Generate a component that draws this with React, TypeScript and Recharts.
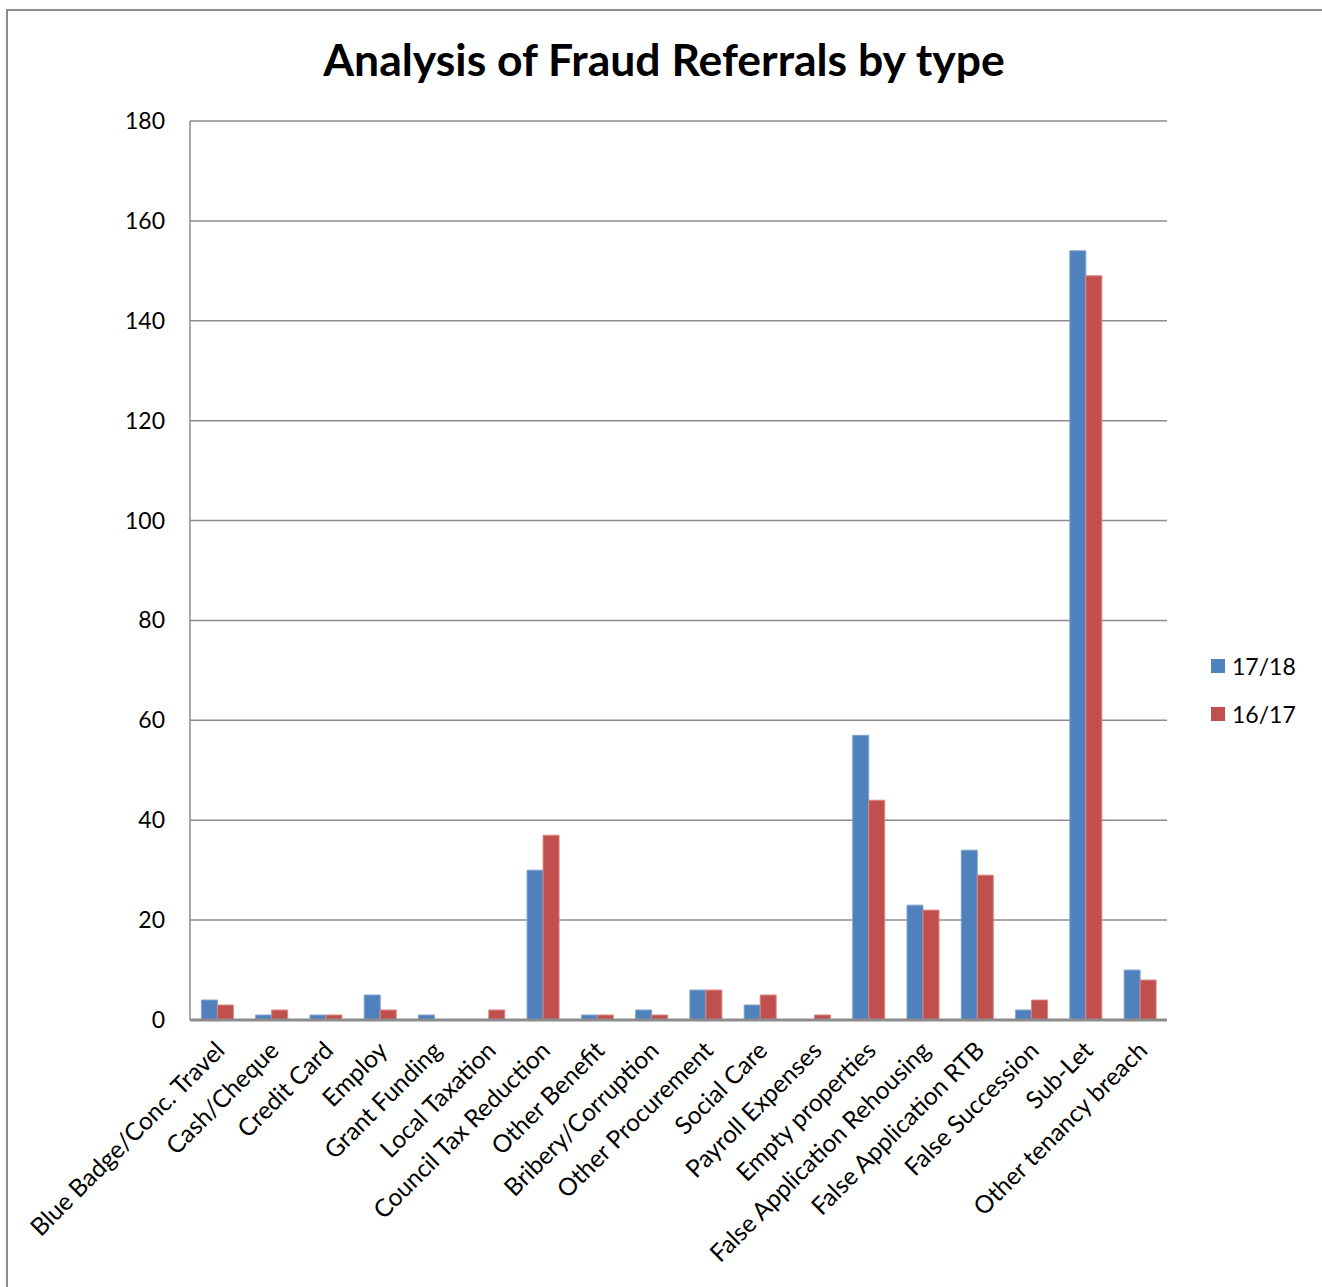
import { BarChart, Bar, XAxis, YAxis, CartesianGrid } from 'recharts';

const categories = [
  'Blue Badge/Conc. Travel',
  'Cash/Cheque',
  'Credit Card',
  'Employ',
  'Grant Funding',
  'Local Taxation',
  'Council Tax Reduction',
  'Other Benefit',
  'Bribery/Corruption',
  'Other Procurement',
  'Social Care',
  'Payroll Expenses',
  'Empty properties',
  'False Application Rehousing',
  'False Application RTB',
  'False Succession',
  'Sub-Let',
  'Other tenancy breach',
];

const values1718 = [4, 1, 1, 5, 1, 0, 30, 1, 2, 6, 3, 0, 57, 23, 34, 2, 154, 10];
const values1617 = [3, 2, 1, 2, 0, 2, 37, 1, 1, 6, 5, 1, 44, 22, 29, 4, 149, 8];
const yTicks = [0, 20, 40, 60, 80, 100, 120, 140, 160, 180];

const BLUE = '#4F81BD';
const RED = '#C0504D';
const FONT = 'Lato, "Open Sans", sans-serif';

const data = categories.map((name, i) => ({
  name,
  a: values1718[i],
  b: values1617[i],
}));

function YTick({ x, y, payload }: any) {
  return (
    <text x={x - 17} y={y} dy={8} textAnchor="end" fontSize={23} fill="#000" fontFamily={FONT}>
      {payload.value}
    </text>
  );
}

function XTick({ x, y, payload }: any) {
  const ax = x + 9;
  const ay = y + 24;
  return (
    <text
      x={ax}
      y={ay}
      textAnchor="end"
      fontSize={24.5}
      fill="#000"
      fontFamily={FONT}
      transform={`rotate(-45, ${ax}, ${ay})`}
    >
      {payload.value}
    </text>
  );
}

export default function App() {
  return (
    <div
      style={{
        position: 'absolute',
        left: 0,
        top: 0,
        width: 1322,
        height: 1287,
        overflow: 'hidden',
        background: '#fff',
        fontFamily: FONT,
      }}
    >
      <div
        style={{
          position: 'absolute',
          left: 6,
          top: 9,
          width: 1400,
          height: 1400,
          border: '2px solid #8c8c8c',
          boxSizing: 'border-box',
        }}
      />
      <div
        style={{
          position: 'absolute',
          left: 0,
          top: 32,
          width: 1328,
          textAlign: 'center',
          fontSize: 44.5,
          fontWeight: 700,
          color: '#000',
        }}
      >
        Analysis of Fraud Referrals by type
      </div>
      <div style={{ position: 'absolute', left: 0, top: 0 }}>
        <BarChart
          width={1322}
          height={1287}
          data={data}
          margin={{ top: 121, right: 155, bottom: 0, left: 0 }}
          barCategoryGap="21%"
          barGap={0}
        >
          <CartesianGrid vertical={false} stroke="#8c8c8c" strokeWidth={1.5} />
          <XAxis
            dataKey="name"
            interval={0}
            tick={<XTick />}
            tickLine={false}
            axisLine={{ stroke: '#8c8c8c', strokeWidth: 3 }}
            height={267}
          />
          <YAxis
            domain={[0, 180]}
            ticks={yTicks}
            width={190}
            tick={<YTick />}
            tickLine={false}
            axisLine={{ stroke: '#8c8c8c', strokeWidth: 1.5 }}
            interval={0}
          />
          <Bar dataKey="a" name="17/18" fill={BLUE} stroke="#7fa3d0" strokeWidth={1} isAnimationActive={false} />
          <Bar dataKey="b" name="16/17" fill={RED} stroke="#d98582" strokeWidth={1} isAnimationActive={false} />
        </BarChart>
      </div>
      <div style={{ position: 'absolute', left: 1211, top: 654, fontSize: 23, color: '#000' }}>
        {[
          { label: '17/18', color: BLUE },
          { label: '16/17', color: RED },
        ].map((item) => (
          <div key={item.label} style={{ display: 'flex', alignItems: 'center', height: 24, marginBottom: 24 }}>
            <span style={{ width: 14, height: 14, background: item.color, display: 'inline-block', marginRight: 7 }} />
            <span>{item.label}</span>
          </div>
        ))}
      </div>
    </div>
  );
}
